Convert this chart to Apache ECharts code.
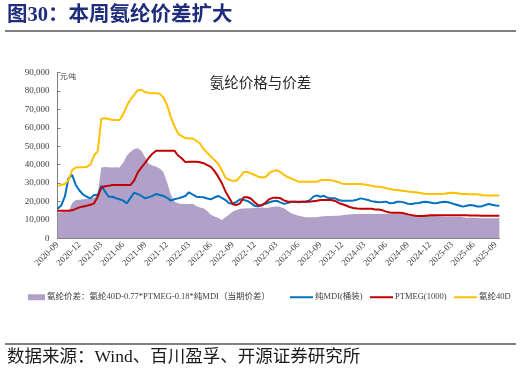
<!DOCTYPE html>
<html><head><meta charset="utf-8">
<script src="https://cdn.jsdelivr.net/npm/echarts@6/dist/echarts.min.js"></script>
<style>html,body{margin:0;padding:0;background:#fff}#c{width:521px;height:373px}</style>
</head><body><div id="c"></div>
<script>
const categories = [
"2020-09-01","2020-09-16","2020-10-01","2020-10-16","2020-11-01","2020-11-16","2020-12-01","2020-12-16",
"2021-01-01","2021-01-16","2021-02-01","2021-02-16","2021-03-01","2021-03-16","2021-04-01","2021-04-16",
"2021-05-01","2021-05-16","2021-06-01","2021-06-16","2021-07-01","2021-07-16","2021-08-01","2021-08-16",
"2021-09-01","2021-09-16","2021-10-01","2021-10-16","2021-11-01","2021-11-16","2021-12-01","2021-12-16",
"2022-01-01","2022-01-16","2022-02-01","2022-02-16","2022-03-01","2022-03-16","2022-04-01","2022-04-16",
"2022-05-01","2022-05-16","2022-06-01","2022-06-16","2022-07-01","2022-07-16","2022-08-01","2022-08-16",
"2022-09-01","2022-09-16","2022-10-01","2022-10-16","2022-11-01","2022-11-16","2022-12-01","2022-12-16",
"2023-01-01","2023-01-16","2023-02-01","2023-02-16","2023-03-01","2023-03-16","2023-04-01","2023-04-16",
"2023-05-01","2023-05-16","2023-06-01","2023-06-16","2023-07-01","2023-07-16","2023-08-01","2023-08-16",
"2023-09-01","2023-09-16","2023-10-01","2023-10-16","2023-11-01","2023-11-16","2023-12-01","2023-12-16",
"2024-01-01","2024-01-16","2024-02-01","2024-02-16","2024-03-01","2024-03-16","2024-04-01","2024-04-16",
"2024-05-01","2024-05-16","2024-06-01","2024-06-16","2024-07-01","2024-07-16","2024-08-01","2024-08-16",
"2024-09-01","2024-09-16","2024-10-01","2024-10-16","2024-11-01","2024-11-16","2024-12-01","2024-12-16",
"2025-01-01","2025-01-16","2025-02-01","2025-02-16","2025-03-01","2025-03-16","2025-04-01","2025-04-16",
"2025-05-01","2025-05-16","2025-06-01","2025-06-16","2025-07-01","2025-07-16","2025-08-01","2025-08-16",
"2025-09-01","2025-09-16"
];

const spread = [
14000,14200,14400,14500,19000,20800,21000,21200,21300,21500,
22000,23500,38500,38800,38600,38500,38600,38500,41000,45000,
47000,48500,49000,47500,44000,40500,39500,38900,38000,36000,
30500,24000,20000,19000,18600,18600,18600,18800,17500,16800,
16300,14800,12800,11800,11200,10000,11500,13000,14500,15400,
16000,16200,16300,16300,16500,16600,16700,16500,16800,17200,
17300,17000,16300,15000,13600,12900,12200,11800,11500,11400,
11400,11500,11800,12000,12100,12100,12200,12200,12500,12800,
13000,13200,13200,13200,13200,13200,13200,13200,13200,13400,
13400,13400,13400,13400,13400,13000,12700,12300,12300,12300,
12300,12300,12300,12200,12000,11800,11700,11700,11700,11700,
11700,11500,11200,11200,11200,11200,10900,10900,10900,10900,
10900,11000
];

const mdi = [
16000,17800,22600,32500,34500,29000,26000,23800,22600,21700,
23500,23500,28500,25500,22600,22600,21800,21200,20500,19000,
22000,24800,24000,23000,21700,22400,23000,24100,23500,23000,
22000,20500,21200,21700,22300,23000,25000,23800,22600,22400,
22300,21600,21200,22200,23000,22000,20800,19000,18800,19800,
21200,20800,20300,19100,17600,17400,18300,18800,19600,20100,
20400,19500,18700,19200,19900,19800,19600,19900,20000,20500,
22500,23300,22600,23100,22000,21700,21700,20800,20400,20400,
20400,20500,21000,21700,21300,20800,20200,19900,19600,19700,
19900,19000,19200,19900,19800,19400,18800,18700,19000,19200,
19700,19900,19500,19100,19200,19600,19900,19600,19000,18400,
17800,17200,17700,18100,17800,17300,17300,18000,18600,18200,
17800,17700
];

const ptmeg = [
15000,15000,15000,15000,15200,16000,16800,17300,17700,18200,
19000,22500,27500,28300,28500,29000,29000,29000,29000,29000,
29000,31500,35800,38500,41000,43800,46000,47600,47600,47600,
47600,47600,47600,45000,43500,41400,41600,41600,41600,41300,
40800,39800,38800,36500,33500,30000,25500,22000,18500,18100,
19000,22300,22300,21500,19500,18000,17800,19500,21300,22000,
22100,21800,20600,20000,19900,19900,19900,19900,19900,19900,
20200,20400,20800,20800,20800,20800,20300,19200,18500,17800,
17000,16500,16200,16100,16100,16100,16100,15700,15700,15200,
14500,14000,13900,13900,13900,13500,13000,12600,12200,12100,
12100,12300,12500,12500,12500,12500,12500,12500,12500,12500,
12500,12500,12500,12400,12400,12400,12300,12300,12300,12300,
12300,12300
];

const fortyD = [
28500,29000,29500,31500,37000,38500,38600,38600,38800,40000,
45000,47200,65000,65200,64800,64300,64300,64300,67500,72000,
75500,78000,80500,80600,79500,79000,78800,78800,78500,76500,
72500,66000,61000,57000,55500,54500,54300,54300,53000,51500,
48500,46500,44500,42500,40500,37000,33000,31800,31300,31300,
33500,36000,36000,35300,34400,33500,33100,33300,35500,36500,
37000,36000,34500,33300,32500,31600,30800,30800,30800,30800,
30800,30800,31500,31700,31700,31500,31000,30500,29700,29500,
29500,29500,29500,29500,29200,29000,28500,28200,28000,27700,
27200,26800,26400,26200,26000,25700,25400,25200,25000,24700,
24400,24100,24100,24100,24100,24100,24200,24600,24800,24600,
24300,24100,24100,24000,23900,23900,23500,23200,23200,23200,
23200,23200
];

const seriesNames = [
"氨纶价差：氨纶40D-0.77*PTMEG-0.18*纯MDI（当期价差）",
"纯MDI(桶装)",
"PTMEG(1000)",
"氨纶40D"
];
const colors = ["#b1a0c7", "#0070c0", "#c00000", "#ffc000"];

const SERIF = "'Liberation Serif','Noto Sans CJK SC'";
const chart = echarts.init(document.getElementById('c'), null, {renderer: 'canvas'});

function legendAt(i, left, w, h) {
  return {
    data: [seriesNames[i]], left: left, top: 293, orient: 'horizontal',
    icon: 'rect', itemWidth: w, itemHeight: h, padding: 0,
    textStyle: {fontSize: 8.5, color: '#404040', fontFamily: SERIF, padding: [0, 0, 0, -3]},
    selectedMode: false
  };
}

chart.setOption({
  animation: false,
  backgroundColor: '#ffffff',
  title: {
    text: '氨纶价格与价差', left: 'center', top: 70,
    textStyle: {fontSize: 14.5, fontWeight: 'normal', color: '#262626', fontFamily: "'Noto Sans CJK SC'"}
  },
  grid: {left: 57.5, right: 21.6, top: 72.7, bottom: 134.7, containLabel: false},
  legend: [
    legendAt(0, 28, 17, 6),
    legendAt(1, 290, 23, 2),
    legendAt(2, 370, 23, 2),
    legendAt(3, 454, 23, 2)
  ],
  xAxis: {
    type: 'category', data: categories, boundaryGap: false,
    axisLine: {lineStyle: {color: '#808080', width: 1}},
    axisTick: {show: true, inside: true, length: 3, interval: 5, lineStyle: {color: '#808080'}},
    axisLabel: {
      interval: 5, rotate: 45, fontSize: 9, fontFamily: SERIF, color: '#404040', margin: 5,
      formatter: v => v.slice(0, 7)
    },
    splitLine: {show: false}
  },
  yAxis: {
    type: 'value', min: 0, max: 90000, interval: 10000,
    axisLine: {show: true, lineStyle: {color: '#808080', width: 1}},
    axisTick: {show: true, inside: true, length: 3, lineStyle: {color: '#808080'}},
    axisLabel: {
      fontSize: 9, fontFamily: SERIF, color: '#404040', margin: 8,
      formatter: v => v.toLocaleString('en-US')
    },
    splitLine: {show: false}
  },
  series: [
    {name: seriesNames[0], type: 'line', data: spread, symbol: 'none', showSymbol: false,
     color: colors[0], itemStyle: {color: colors[0]},
     lineStyle: {width: 0}, areaStyle: {color: colors[0], opacity: 1}, z: 1},
    {name: seriesNames[1], type: 'line', data: mdi, symbol: 'none', showSymbol: false,
     color: colors[1], itemStyle: {color: colors[1]}, lineStyle: {width: 2, color: colors[1]}, z: 2},
    {name: seriesNames[2], type: 'line', data: ptmeg, symbol: 'none', showSymbol: false,
     color: colors[2], itemStyle: {color: colors[2]}, lineStyle: {width: 2, color: colors[2]}, z: 3},
    {name: seriesNames[3], type: 'line', data: fortyD, symbol: 'none', showSymbol: false,
     color: colors[3], itemStyle: {color: colors[3]}, lineStyle: {width: 2, color: colors[3]}, z: 4}
  ],
  graphic: [
    {type: 'text', left: 7, top: 5,
     style: {text: '图30：本周氨纶价差扩大', fontSize: 20.5, fontWeight: 'bold', fontFamily: SERIF, fill: '#1f2d7c'}},
    {type: 'line', shape: {x1: 5, y1: 31, x2: 516, y2: 31}, style: {stroke: '#808080', lineWidth: 2}},
    {type: 'text', left: 60, top: 74,
     style: {text: '元/吨', fontSize: 7, fontFamily: SERIF, fill: '#404040'}},
    {type: 'line', shape: {x1: 5, y1: 344, x2: 516, y2: 344}, style: {stroke: '#808080', lineWidth: 2}},
    {type: 'text', left: 7, top: 349,
     style: {text: '数据来源：Wind、百川盈孚、开源证券研究所', fontSize: 17.5, fontFamily: SERIF, fill: '#1a1a1a'}}
  ]
});
</script>
</body></html>
